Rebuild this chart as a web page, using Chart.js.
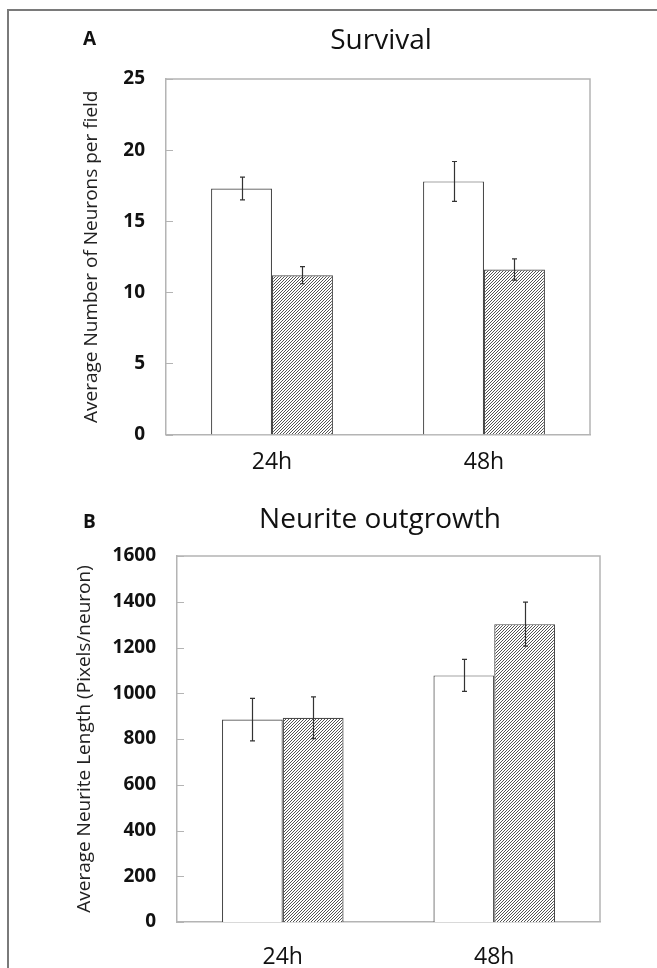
<!DOCTYPE html>
<html>
<head>
<meta charset="utf-8">
<script src="https://cdn.jsdelivr.net/npm/chart.js@4.4.1/dist/chart.umd.min.js"></script>
<style>
  html, body { margin: 0; padding: 0; background: #fff; overflow: hidden; }
  #page { position: relative; width: 657px; height: 968px; }
  #frame { position: absolute; left: 7px; top: 9px; width: 700px; height: 1000px;
           border-top: 2px solid #7a7a7a; border-left: 2px solid #7a7a7a; }
  canvas { position: absolute; left: 0; }
  #survival { top: 0; }
  #neurite { top: 480px; }
</style>
</head>
<body>
<div id="page">
  <div id="frame"></div>
  <canvas id="survival" width="657" height="480"></canvas>
  <canvas id="neurite" width="657" height="488"></canvas>
</div>
<script>
"use strict";

// categories
const timePoints = ["24h", "48h"];

// panel A - survival
const survivalControl = [17.3, 17.8];
const survivalControlErr = [0.8, 1.4];
const survivalTreated = [11.2, 11.6];
const survivalTreatedErr = [0.6, 0.75];
const survivalTicks = { min: 0, max: 25, step: 5 };

// panel B - neurite outgrowth
const neuriteControl = [885, 1078];
const neuriteControlErr = [93, 70];
const neuriteTreated = [893, 1302];
const neuriteTreatedErr = [91, 96];
const neuriteTicks = { min: 0, max: 1600, step: 200 };

const FONT = "'Open Sans', 'DejaVu Sans', sans-serif";
const AXIS_GRAY = "#b4b4b4";

function hatchPattern() {
    var c = document.createElement("canvas");
    c.width = 3; c.height = 3;
    var g = c.getContext("2d");
    g.fillStyle = "#ffffff";
    g.fillRect(0, 0, 3, 3);
    g.strokeStyle = "#404040";
    g.lineWidth = 0.9;
    g.beginPath();
    g.moveTo(-1, 4); g.lineTo(4, -1);
    g.moveTo(-1, 1); g.lineTo(1, -1);
    g.moveTo(2, 4); g.lineTo(4, 2);
    g.stroke();
    return document.getElementById("survival").getContext("2d").createPattern(c, "repeat");
}
const hatch = hatchPattern();

// error bars, inward tick marks, plot frame, titles
const panelDeco = {
    id: "panelDeco",
    afterDatasetsDraw(chart, args, opts) {
        const ctx = chart.ctx;
        const area = chart.chartArea;
        const y = chart.scales.y;

        ctx.save();
        // frame top + right
        ctx.strokeStyle = AXIS_GRAY;
        ctx.lineWidth = 1.5;
        ctx.beginPath();
        ctx.moveTo(area.left, area.top);
        ctx.lineTo(area.right, area.top);
        ctx.lineTo(area.right, area.bottom);
        ctx.stroke();

        // ticks pointing into the plot
        ctx.lineWidth = 1;
        y.ticks.forEach(t => {
            const py = Math.round(y.getPixelForValue(t.value)) + 0.5;
            ctx.beginPath();
            ctx.moveTo(area.left, py);
            ctx.lineTo(area.left + 7, py);
            ctx.stroke();
        });

        // error bars
        ctx.strokeStyle = "#333";
        ctx.lineWidth = 1.2;
        chart.data.datasets.forEach((ds, i) => {
            const meta = chart.getDatasetMeta(i);
            meta.data.forEach((bar, j) => {
                const v = ds.data[j], e = ds.errors[j];
                const x = Math.round(bar.x) + 0.5;
                const yt = y.getPixelForValue(v + e);
                const yb = y.getPixelForValue(v - e);
                ctx.beginPath();
                ctx.moveTo(x, yt); ctx.lineTo(x, yb);
                ctx.moveTo(x - 2.5, yt); ctx.lineTo(x + 2.5, yt);
                ctx.moveTo(x - 2.5, yb); ctx.lineTo(x + 2.5, yb);
                ctx.stroke();
            });
        });

        // panel letter and title
        ctx.fillStyle = "#111";
        ctx.textBaseline = "alphabetic";
        ctx.textAlign = "left";
        ctx.font = "bold 19px " + FONT;
        ctx.fillText(opts.letter, 83, opts.letterY);
        ctx.textAlign = "center";
        ctx.font = "28px " + FONT;
        ctx.fillText(opts.title, opts.titleX, opts.titleY);
        ctx.restore();
    }
};

function makeChart(id, control, controlErr, treated, treatedErr, ticks, yTitle, layout) {
    return new Chart(document.getElementById(id), {
        type: "bar",
        data: {
            labels: timePoints,
            datasets: [{
                label: "Control",
                data: control,
                errors: controlErr,
                backgroundColor: "#ffffff",
                borderColor: "#4a4a4a",
                borderWidth: 1.2
            }, {
                label: "Treated",
                data: treated,
                errors: treatedErr,
                backgroundColor: hatch,
                borderColor: "#4a4a4a",
                borderWidth: 1.2
            }]
        },
        options: {
            responsive: false,
            animation: false,
            layout: { padding: { left: 0, right: layout.padRight, top: layout.padTop, bottom: 0 } },
            datasets: { bar: { categoryPercentage: 0.575, barPercentage: 1 } },
            plugins: {
                legend: { display: false },
                tooltip: { enabled: false },
                panelDeco: layout.deco
            },
            scales: {
                x: {
                    grid: { display: false },
                    border: { color: AXIS_GRAY, width: 1.5 },
                    ticks: { color: "#111", font: { family: FONT, size: 23 }, padding: layout.xPad },
                    afterFit: s => { s.height = layout.xHeight; }
                },
                y: {
                    min: ticks.min,
                    max: ticks.max,
                    grid: { display: false, drawTicks: false },
                    border: { color: AXIS_GRAY, width: 1.5 },
                    ticks: {
                        stepSize: ticks.step,
                        color: "#111",
                        padding: 21,
                        font: { family: FONT, size: 19, weight: "bold" },
                        callback: v => String(v)
                    },
                    title: {
                        display: true,
                        text: yTitle,
                        color: "#222",
                        font: { family: FONT, size: 19 },
                        padding: { top: layout.yTitlePad }
                    },
                    afterFit: s => { s.width = layout.yWidth; }
                }
            }
        },
        plugins: [panelDeco]
    });
}

makeChart("survival", survivalControl, survivalControlErr, survivalTreated, survivalTreatedErr,
    survivalTicks, "Average Number of Neurons per field", {
        padRight: 67, padTop: 79, xHeight: 45.5, xPad: 6, yWidth: 166, yTitlePad: 80,
        deco: { letter: "A", letterY: 45, title: "Survival", titleX: 381, titleY: 49 }
    });

makeChart("neurite", neuriteControl, neuriteControlErr, neuriteTreated, neuriteTreatedErr,
    neuriteTicks, "Average Neurite Length (Pixels/neuron)", {
        padRight: 57, padTop: 76, xHeight: 46, xPad: 14, yWidth: 177, yTitlePad: 73,
        deco: { letter: "B", letterY: 48, title: "Neurite outgrowth", titleX: 380, titleY: 48 }
    });
</script>
</body>
</html>
